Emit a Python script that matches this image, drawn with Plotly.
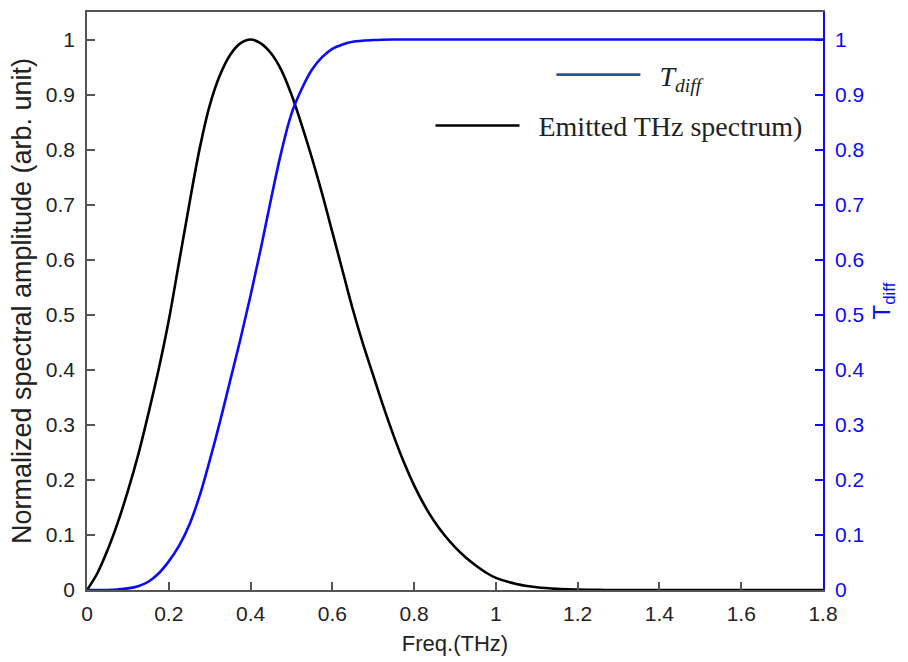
import plotly.graph_objects as go

# Emitted THz spectrum (normalized)
freq_spec = [0.000, 0.025, 0.050, 0.075, 0.100, 0.125, 0.150, 0.175, 0.200, 0.225,
             0.250, 0.275, 0.300, 0.325, 0.350, 0.375, 0.400, 0.425, 0.450, 0.475,
             0.500, 0.525, 0.550, 0.575, 0.600, 0.625, 0.650, 0.675, 0.700, 0.725,
             0.750, 0.775, 0.800, 0.825, 0.850, 0.875, 0.900, 0.925, 0.950, 0.975,
             1.000, 1.050, 1.100, 1.150, 1.200, 1.250, 1.300, 1.400, 1.500, 1.600,
             1.700, 1.800]
spectrum = [0.0, 0.03, 0.072, 0.122, 0.18, 0.245, 0.32, 0.40, 0.49, 0.595,
            0.70, 0.80, 0.88, 0.935, 0.972, 0.993, 1.0, 0.993, 0.975, 0.945,
            0.90, 0.845, 0.785, 0.72, 0.65, 0.58, 0.51, 0.447, 0.39, 0.333,
            0.28, 0.232, 0.19, 0.154, 0.124, 0.099, 0.078, 0.06, 0.045, 0.032,
            0.022, 0.011, 0.005, 0.002, 0.0008, 0.0002, 0.0, 0.0, 0.0, 0.0,
            0.0, 0.0]

# T_diff curve
freq_t = [0.000, 0.025, 0.050, 0.075, 0.100, 0.125, 0.150, 0.175, 0.200, 0.225,
          0.250, 0.275, 0.300, 0.325, 0.350, 0.375, 0.400, 0.425, 0.450, 0.475,
          0.500, 0.525, 0.550, 0.575, 0.600, 0.625, 0.650, 0.700, 0.750, 0.800,
          1.000, 1.200, 1.400, 1.600, 1.800]
t_diff = [0.0, 0.0, 0.0, 0.001, 0.003, 0.007, 0.015, 0.03, 0.052, 0.08,
          0.118, 0.17, 0.235, 0.305, 0.38, 0.455, 0.535, 0.62, 0.71, 0.795,
          0.865, 0.91, 0.945, 0.968, 0.983, 0.991, 0.996, 0.999, 1.0, 1.0,
          1.0, 1.0, 1.0, 1.0, 1.0]

x_ticks = [0, 0.2, 0.4, 0.6, 0.8, 1.0, 1.2, 1.4, 1.6, 1.8]
x_ticklabels = ["0", "0.2", "0.4", "0.6", "0.8", "1", "1.2", "1.4", "1.6", "1.8"]
y_ticks = [0, 0.1, 0.2, 0.3, 0.4, 0.5, 0.6, 0.7, 0.8, 0.9, 1.0]
y_ticklabels = ["0", "0.1", "0.2", "0.3", "0.4", "0.5", "0.6", "0.7", "0.8", "0.9", "1"]

BLUE = "#0a0aff"
LEGEND_BLUE = "#2f4f9f"
GRAY = "#555555"
SANS = "Liberation Sans, Arial, sans-serif"
SERIF = "Liberation Serif, Cambria, Times New Roman, serif"
NB = "\u00a0"

fig = go.Figure()
fig.add_trace(go.Scatter(
    x=freq_spec, y=spectrum, mode="lines", name=NB * 2 + "Emitted THz spectrum)",
    line=dict(color="black", width=2.6, shape="spline", smoothing=1.0),
    legend="legend2", showlegend=True, yaxis="y"))
fig.add_trace(go.Scatter(
    x=freq_t, y=t_diff, mode="lines", name="T_diff curve",
    line=dict(color=BLUE, width=2.6, shape="spline", smoothing=1.0),
    showlegend=False, yaxis="y2"))
# legend entry for T_diff (the reference draws its key in a darker blue)
fig.add_trace(go.Scatter(
    x=[None], y=[None], mode="lines", name=NB * 2 + "<i>T<sub>diff</sub></i>",
    line=dict(color=LEGEND_BLUE, width=2.8),
    legend="legend", showlegend=True, yaxis="y2", hoverinfo="skip"))

fig.update_layout(
    width=908, height=662,
    margin=dict(l=87, r=85, t=10, b=72),
    paper_bgcolor="white", plot_bgcolor="white",
    showlegend=True,
    xaxis=dict(range=[0, 1.8], tickvals=x_ticks, ticktext=x_ticklabels,
               ticks="inside", ticklen=8, tickcolor=GRAY, tickwidth=1.5,
               showline=True, linecolor=GRAY, linewidth=1.5, mirror=True,
               showgrid=False, zeroline=False, ticklabelstandoff=4,
               tickfont=dict(family=SANS, size=21, color="#222222"),
               title=dict(text="Freq.(THz)", font=dict(family=SANS, size=22, color="#222222"),
                          standoff=12)),
    yaxis=dict(range=[0, 1.05], tickvals=y_ticks, ticktext=y_ticklabels,
               ticks="inside", ticklen=8, tickcolor=GRAY, tickwidth=1.5,
               showline=True, linecolor=GRAY, linewidth=1.5,
               showgrid=False, zeroline=False, ticklabelstandoff=6,
               tickfont=dict(family=SANS, size=21, color="#222222"),
               title=dict(text="Normalized spectral amplitude (arb. unit)",
                          font=dict(family=SANS, size=27, color="#222222"), standoff=6)),
    yaxis2=dict(range=[0, 1.05], tickvals=y_ticks, ticktext=y_ticklabels,
                overlaying="y", side="right", anchor="x",
                ticks="inside", ticklen=8, tickcolor=BLUE, tickwidth=1.5,
                showline=True, linecolor=BLUE, linewidth=1.5,
                showgrid=False, zeroline=False, ticklabelstandoff=6,
                tickfont=dict(family=SANS, size=21, color=BLUE),
                title=dict(text="T<sub>diff</sub>", font=dict(family=SANS, size=24, color=BLUE),
                           standoff=10)),
    legend=dict(x=0.631, y=0.891, xanchor="left", yanchor="middle", visible=True,
                bgcolor="rgba(0,0,0,0)", itemwidth=84,
                font=dict(family=SERIF, size=28, color="#222222")),
    legend2=dict(x=0.4667, y=0.803, xanchor="left", yanchor="middle", visible=True,
                 bgcolor="rgba(0,0,0,0)", itemwidth=84,
                 font=dict(family=SERIF, size=28, color="#222222")),
)

fig.write_html("out.html")
